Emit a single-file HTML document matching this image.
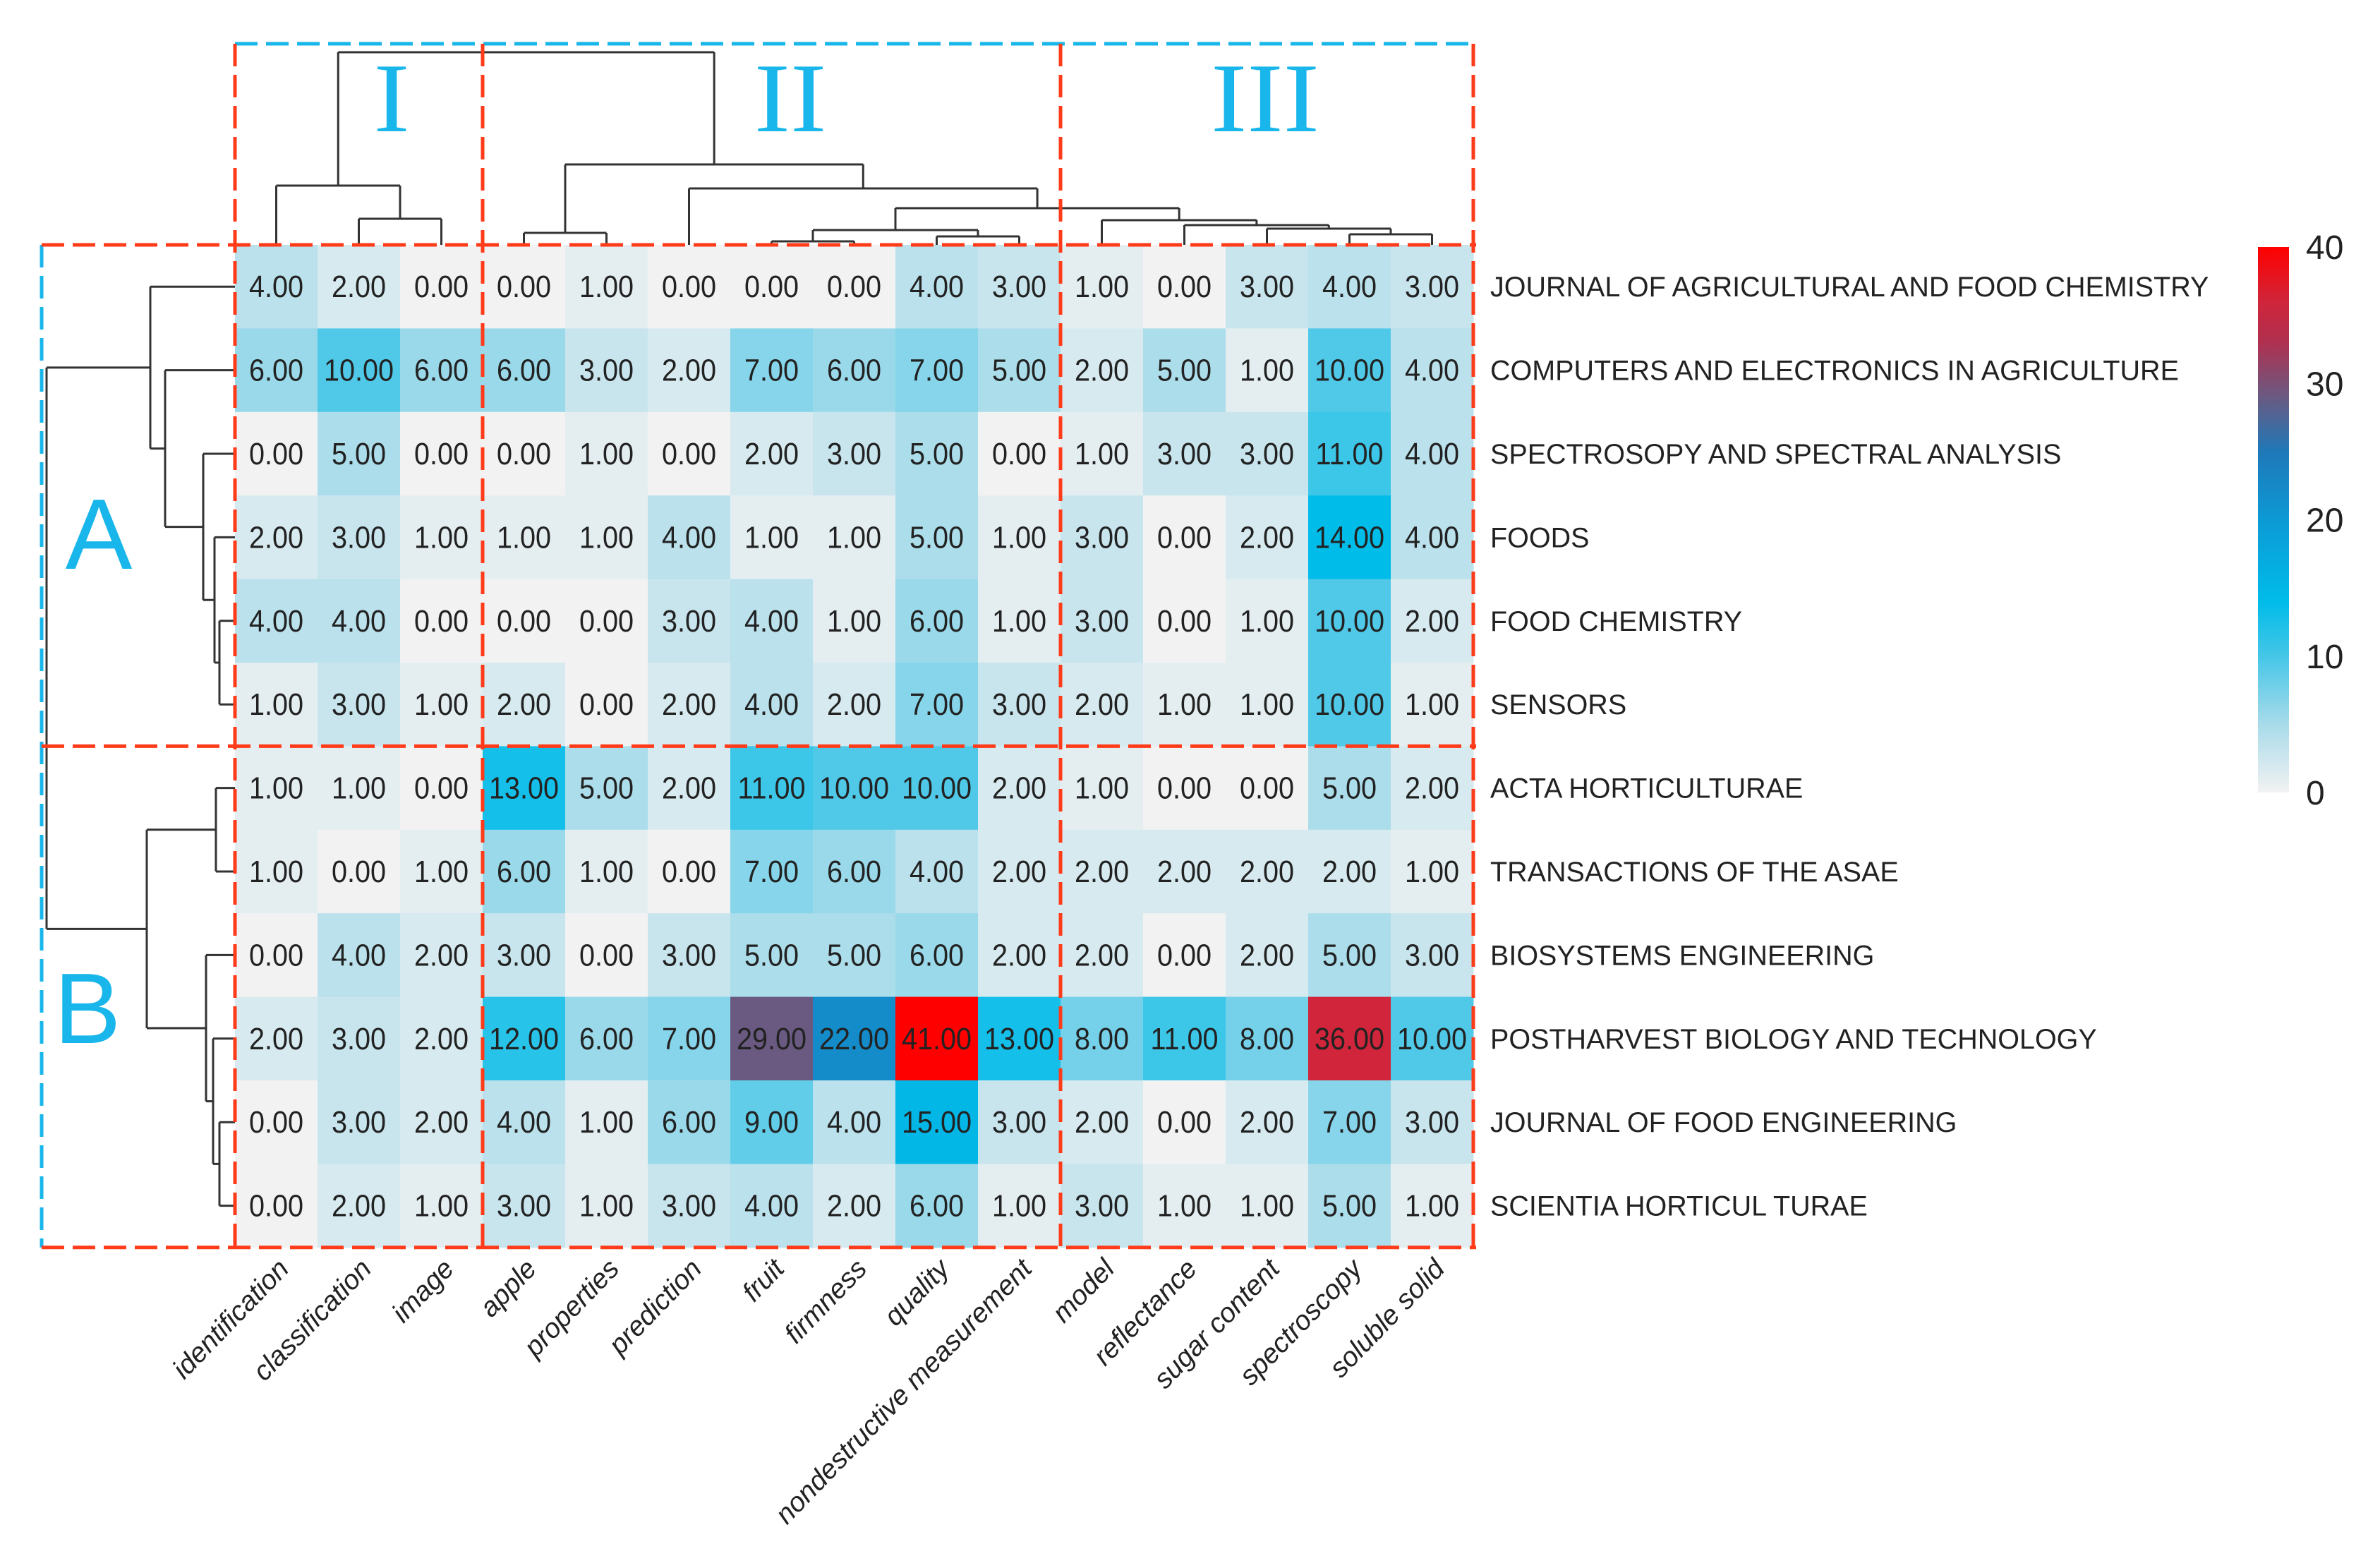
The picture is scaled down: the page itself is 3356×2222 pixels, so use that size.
<!DOCTYPE html>
<html><head><meta charset="utf-8"><style>
html,body{margin:0;padding:0;background:#fff;}
svg{display:block;font-family:"Liberation Sans",Arial,sans-serif;}
</style></head><body>
<svg id="chart" width="3356" height="2222" viewBox="0 0 3356 2222" xmlns="http://www.w3.org/2000/svg">
<defs>
<linearGradient id="cbar" x1="0" y1="1" x2="0" y2="0">
<stop offset="0" stop-color="#f2f2f2"/><stop offset="0.125" stop-color="#a8dbea"/><stop offset="0.25" stop-color="#45c6e7"/><stop offset="0.35" stop-color="#00bce9"/><stop offset="0.5" stop-color="#0c9ad5"/><stop offset="0.625" stop-color="#1f78b8"/><stop offset="0.725" stop-color="#6a5a82"/><stop offset="0.825" stop-color="#b03050"/><stop offset="0.9" stop-color="#d0253a"/><stop offset="1" stop-color="#ff0000"/>
</linearGradient>
</defs>
<g id="cells"></g>
<g id="dendro"></g>
<g id="boxes"></g>
<g id="labels"></g>
<g id="cb"></g>
</svg>
<script>
const rowLabels = ["JOURNAL OF AGRICULTURAL AND FOOD CHEMISTRY","COMPUTERS AND ELECTRONICS IN AGRICULTURE","SPECTROSOPY AND SPECTRAL ANALYSIS","FOODS","FOOD CHEMISTRY","SENSORS","ACTA HORTICULTURAE","TRANSACTIONS OF THE ASAE","BIOSYSTEMS ENGINEERING","POSTHARVEST BIOLOGY AND TECHNOLOGY","JOURNAL OF FOOD ENGINEERING","SCIENTIA HORTICUL TURAE"];
const colLabels = ["identification","classification","image","apple","properties","prediction","fruit","firmness","quality","nondestructive measurement","model","reflectance","sugar content","spectroscopy","soluble solid"];
const values = [
[4,2,0,0,1,0,0,0,4,3,1,0,3,4,3],
[6,10,6,6,3,2,7,6,7,5,2,5,1,10,4],
[0,5,0,0,1,0,2,3,5,0,1,3,3,11,4],
[2,3,1,1,1,4,1,1,5,1,3,0,2,14,4],
[4,4,0,0,0,3,4,1,6,1,3,0,1,10,2],
[1,3,1,2,0,2,4,2,7,3,2,1,1,10,1],
[1,1,0,13,5,2,11,10,10,2,1,0,0,5,2],
[1,0,1,6,1,0,7,6,4,2,2,2,2,2,1],
[0,4,2,3,0,3,5,5,6,2,2,0,2,5,3],
[2,3,2,12,6,7,29,22,41,13,8,11,8,36,10],
[0,3,2,4,1,6,9,4,15,3,2,0,2,7,3],
[0,2,1,3,1,3,4,2,6,1,3,1,1,5,1]];
const colorTicks = [0,10,20,30,40];
const colMerges = [[1,2,37],[0,"c0",84],[3,4,17],[6,7,5],[8,9,12],["c3","c4",21],[13,14,15],[12,"c6",23],[11,"c7",28],[10,"c8",35],["c5","c9",52],[5,"c10",80],["c2","c11",114],["c1","c12",273]];
const rowMerges = [[4,5,22],[3,"r0",29],[2,"r1",45],[1,"r2",99],[0,"r3",120],[10,11,22],[9,"r5",31],[8,"r6",41],[6,7,27],["r8","r7",125],["r4","r9",267]];

const NS="http://www.w3.org/2000/svg";
const X0=333,Y0=347,CW=117,CH=118.4,CMAX=40;
const xC=i=>X0+(i+0.5)*CW, yC=i=>Y0+(i+0.5)*CH;
const stops=[[0,[242,242,242]],[5,[172,221,235]],[10,[80,201,232]],[14,[0,188,233]],[20,[12,154,213]],[25,[31,120,184]],[29,[106,90,130]],[33,[176,48,80]],[36,[208,37,58]],[40,[255,0,0]]];
function color(v){for(let i=1;i<stops.length;i++){if(v<=stops[i][0]){const a=stops[i-1],b=stops[i],t=(v-a[0])/(b[0]-a[0]);return "rgb("+a[1].map((c,k)=>Math.round(c+(b[1][k]-c)*t)).join(",")+")";}}return "rgb(255,0,0)";}
function el(tag,attrs,parent){const e=document.createElementNS(NS,tag);for(const k in attrs)e.setAttribute(k,attrs[k]);parent.appendChild(e);return e;}
const cells=document.getElementById('cells');
values.forEach((row,r)=>row.forEach((v,c)=>{
 const rc=el('rect',{x:X0+c*CW,y:Y0+r*CH,width:CW+0.5,height:CH+0.5,fill:color(v)},cells);
 
 
 const t=el('text',{x:0,y:0,'text-anchor':'middle','font-size':44,fill:'#222',transform:`translate(${xC(c)} ${yC(r)+15}) scale(0.9 1)`},cells);
 
 
 t.textContent=v.toFixed(2);
}));
const dg=document.getElementById('dendro');
function line(x1,y1,x2,y2){const l=el('line',{x1,y1,x2,y2,stroke:'#333','stroke-width':3},dg);
 
 }
const cpos={},ch={};
colMerges.forEach((m,i)=>{
 const p=[m[0],m[1]].map(k=>typeof k==="number"?[xC(k),0]:[cpos[k],ch[k]]);
 const h=m[2];
 p.forEach(q=>line(q[0],Y0-q[1],q[0],Y0-h));
 line(p[0][0],Y0-h,p[1][0],Y0-h);
 cpos["c"+i]=(p[0][0]+p[1][0])/2;ch["c"+i]=h;
});
const rpos={},rh={};
rowMerges.forEach((m,i)=>{
 const p=[m[0],m[1]].map(k=>typeof k==="number"?[yC(k),0]:[rpos[k],rh[k]]);
 const h=m[2];
 p.forEach(q=>line(X0-q[1],q[0],X0-h,q[0]));
 line(X0-h,p[0][0],X0-h,p[1][0]);
 rpos["r"+i]=(p[0][0]+p[1][0])/2;rh["r"+i]=h;
});
const bx=document.getElementById('boxes');
const XR=X0+15*CW, YB=Y0+12*CH;
function dash(x1,y1,x2,y2,col,name){const l=el('line',{x1,y1,x2,y2,stroke:col,'stroke-width':5,'stroke-dasharray':'32 12'},bx);
 
 }
dash(X0,62,XR,62,'#18b6ea','top-cluster-border');
dash(59,Y0,59,YB,'#18b6ea','left-cluster-border');
[0,3,10,15].forEach(c=>dash(X0+c*CW,62,X0+c*CW,YB,'#ff3b1a','column-cluster-divider'));
[Y0,Y0+6*CH,YB].forEach(y=>dash(59,y,XR+4,y,'#ff3b1a','row-cluster-divider'));
const lg=document.getElementById('labels');
[["I",555],["II",1120],["III",1793]].forEach(([s,x])=>{
 const t=el('text',{x:0,y:0,'text-anchor':'middle','font-size':140,'font-family':'"Liberation Serif",serif',fill:'#18b6ea',transform:`translate(${x} 186) scale(1.1 1)`},lg);
 
 
 t.textContent=s;});
[["A",140,806],["B",124,1478]].forEach(([s,x,y])=>{
 const t=el('text',{x:x,y:y,'text-anchor':'middle','font-size':142,fill:'#18b6ea'},lg);
 
 
 t.textContent=s;});
rowLabels.forEach((s,r)=>{
 const t=el('text',{x:2112,y:yC(r)+14,'font-size':39.5,fill:'#222'},lg);
 
 
 t.textContent=s;});
colLabels.forEach((s,c)=>{
 const x=xC(c)+20,y=1800;
 const t=el('text',{x:x,y:y,'text-anchor':'end','font-size':39,'font-style':'italic',fill:'#222',transform:`rotate(-46 ${x} ${y})`},lg);
 
 
 t.textContent=s;});
const cb=document.getElementById('cb');
const CBT=350,CBB=1123;
const r=el('rect',{x:3200,y:CBT,width:44,height:CBB-CBT,fill:'url(#cbar)'},cb);


colorTicks.forEach(v=>{
 const y=CBB-(CBB-CBT)*v/CMAX;
 const t=el('text',{x:3268,y:y+17,'font-size':48,fill:'#222'},cb);
 
 
 t.textContent=v;});
</script>
</body></html>
